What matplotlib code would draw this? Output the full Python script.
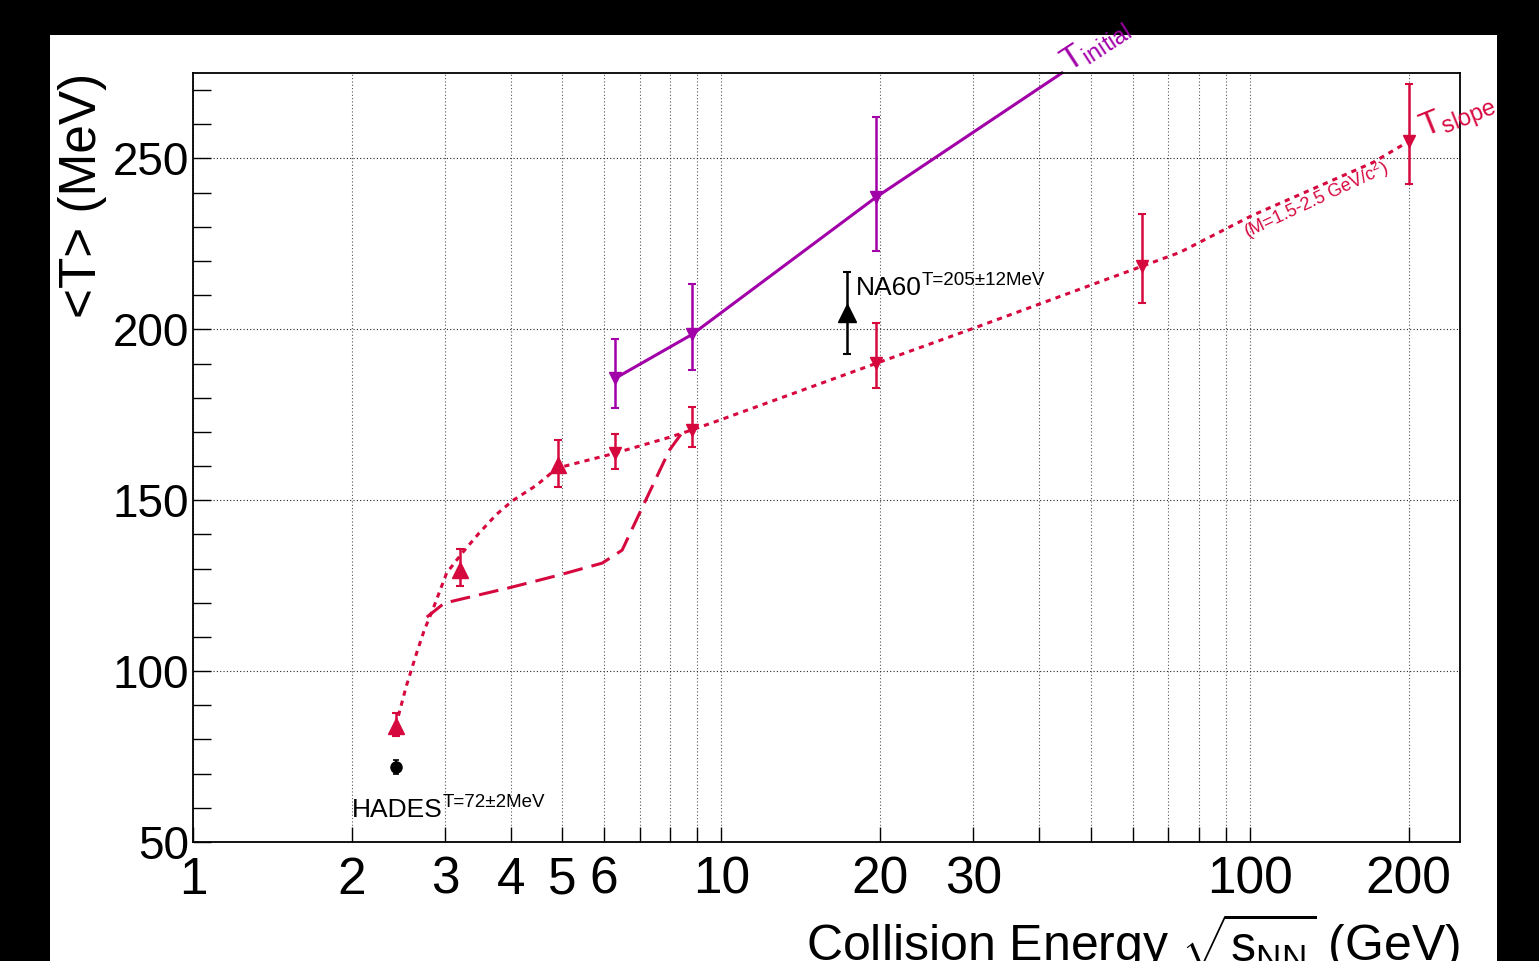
import numpy as np
import matplotlib
matplotlib.use("Agg")
import matplotlib.pyplot as plt
from matplotlib.patches import Rectangle
from matplotlib.ticker import FixedLocator, NullFormatter, FixedFormatter

plt.rcParams['font.family'] = ['Liberation Sans', 'DejaVu Sans']
plt.rcParams['mathtext.fontset'] = 'custom'
plt.rcParams['mathtext.rm'] = 'Liberation Sans'
plt.rcParams['mathtext.it'] = 'Liberation Sans:italic'
plt.rcParams['mathtext.bf'] = 'Liberation Sans:bold'

RED = '#d6093f'
PURPLE = '#a100a8'

# measured T_slope points (up triangles)
meas_x = [2.42, 3.2, 4.9]
meas_y = [83.9, 129.5, 160.2]
meas_lo = [2.9, 4.6, 6.4]
meas_hi = [3.8, 6.2, 7.3]

# T_slope model points (down triangles)
slope_x = [6.3, 8.8, 19.6, 62.4, 200]
slope_y = [163.7, 170.5, 190.1, 218.4, 255.0]
slope_lo = [4.6, 5.0, 7.4, 10.8, 12.6]
slope_hi = [5.6, 6.7, 11.7, 15.2, 16.9]

# T_initial points
init_x = [6.3, 8.8, 19.6]
init_y = [185.7, 198.5, 238.6]
init_lo = [8.8, 10.5, 15.6]
init_hi = [11.4, 14.7, 23.4]

# T_initial curve
init_curve_x = [6.3, 8.8, 19.6, 44.1]
init_curve_y = [185.7, 198.5, 238.6, 275.0]

# T_slope curve (dotted)
slope_curve_x = [2.42, 2.53, 2.65, 2.74, 2.84, 3.02, 3.23, 3.48, 3.75, 4.02, 4.46, 4.89,
                 6.27, 7.97, 8.77, 9.91, 19.6, 30.0, 62.4, 73.7, 101, 171, 200]
slope_curve_y = [84.0, 95.3, 105.3, 112.0, 117.8, 128.7, 134.5, 140.4, 145.8, 149.8, 154.3, 159.4,
                 163.7, 168.4, 170.5, 173.4, 190.0, 200.3, 218.4, 222.5, 233.3, 248.8, 255.0]

# dashed curve
dash_curve_x = [2.77, 2.99, 4.02, 4.93, 5.95, 6.49, 7.09, 7.97, 8.44, 8.77]
dash_curve_y = [115.8, 119.9, 124.6, 128.1, 131.6, 135.4, 148.0, 164.6, 169.9, 170.5]

# NA60 and HADES
na60_x, na60_y, na60_err = [17.3], [204.7], [12.0]
hades_x, hades_y, hades_err = [2.42], [72.0], [2.0]

xtick_major = [1, 2, 3, 4, 5, 6, 10, 20, 30, 100, 200]
xtick_minor = [7, 8, 9, 40, 50, 60, 70, 80, 90]

fig = plt.figure(figsize=(15.39, 9.61), dpi=100, facecolor='black')
fig.patches.append(Rectangle((50 / 1539, 0), 1447 / 1539, 926 / 961,
                             transform=fig.transFigure, facecolor='white',
                             edgecolor='none', zorder=-10))
ax = fig.add_axes([193 / 1539, 119 / 961, 1267 / 1539, 769 / 961])
ax.set_facecolor('white')

ax.set_xscale('log')
ax.set_xlim(1, 250)
ax.set_ylim(50, 275)

# grid
ax.xaxis.set_major_locator(FixedLocator(xtick_major))
ax.xaxis.set_minor_locator(FixedLocator(xtick_minor))
ax.xaxis.set_major_formatter(FixedFormatter([str(v) for v in xtick_major]))
ax.xaxis.set_minor_formatter(NullFormatter())
ax.yaxis.set_major_locator(FixedLocator([50, 100, 150, 200, 250]))
ax.yaxis.set_minor_locator(FixedLocator([v for v in range(60, 280, 10) if v % 50]))
ax.grid(True, which='both', axis='x', linestyle=(0, (1, 2)), color='#555555', linewidth=0.8)
ax.grid(True, which='major', axis='y', linestyle=(0, (1, 2)), color='#222222', linewidth=0.8)
ax.set_axisbelow(True)

ax.tick_params(axis='x', which='both', direction='in', length=11, width=1,
               top=False, labelsize=37, pad=10)
ax.tick_params(axis='y', which='both', direction='in', length=13, width=1,
               right=False, labelsize=33, pad=3)
for s in ax.spines.values():
    s.set_linewidth(1.3)

# curves
ax.plot(slope_curve_x, slope_curve_y, color=RED, lw=2.2, linestyle=(0, (1.7, 1.7)))
ax.plot(dash_curve_x, dash_curve_y, color=RED, lw=2.2, linestyle=(0, (6.5, 3)))
ax.plot(init_curve_x, init_curve_y, color=PURPLE, lw=2.2, clip_on=False)

# points
ax.errorbar(meas_x, meas_y, yerr=[meas_lo, meas_hi], fmt='^', color=RED, ms=11,
            capsize=3, elinewidth=1.8, capthick=1.5)
ax.errorbar(slope_x, slope_y, yerr=[slope_lo, slope_hi], fmt='v', color=RED, ms=8,
            capsize=3, elinewidth=1.8, capthick=1.5)
ax.errorbar(init_x, init_y, yerr=[init_lo, init_hi], fmt='v', color=PURPLE, ms=8,
            capsize=3, elinewidth=1.8, capthick=1.5)
ax.errorbar(na60_x, na60_y, yerr=na60_err, fmt='^', color='black', ms=13,
            capsize=3, elinewidth=1.8, capthick=1.5)
ax.errorbar(hades_x, hades_y, yerr=hades_err, fmt='o', color='black', ms=8,
            capsize=2, elinewidth=1.5, capthick=1.2)

# labels with superscripts
hades_txt = ax.text(2.0, 57.3, 'HADES', fontsize=19, color='black')
ax.annotate('T=72\u00b12MeV', xy=(1.0, 0.62), xycoords=hades_txt,
            ha='left', va='baseline', fontsize=13.5, color='black')
na60_txt = ax.text(18.0, 210.0, 'NA60', fontsize=19, color='black')
ax.annotate('T=205\u00b112MeV', xy=(1.0, 0.62), xycoords=na60_txt,
            ha='left', va='baseline', fontsize=13.5, color='black')

ax.text(45.5, 275.0, r'T$_{\mathrm{initial}}$', fontsize=24, color=PURPLE,
        rotation=33, rotation_mode='anchor', ha='left', va='baseline', clip_on=False)
ax.text(214, 256.0, r'T$_{\mathrm{slope}}$', fontsize=24, color=RED,
        rotation=22, rotation_mode='anchor', ha='left', va='baseline', clip_on=False)
ax.text(99, 226.5, r'(M=1.5-2.5 GeV/c$^{2}$)', fontsize=13, color=RED,
        rotation=25, rotation_mode='anchor', ha='left', va='baseline')

ax.text(-0.0876, 1.0, '<T> (MeV)', transform=ax.transAxes, rotation=90,
        ha='center', va='top', fontsize=37)
ax.text(1.0, -0.09, r'Collision Energy $\sqrt{\mathrm{s}_{\mathrm{NN}}}$ (GeV)',
        transform=ax.transAxes, ha='right', va='top', fontsize=36)

fig.savefig('out.png', dpi=100, facecolor='black')
